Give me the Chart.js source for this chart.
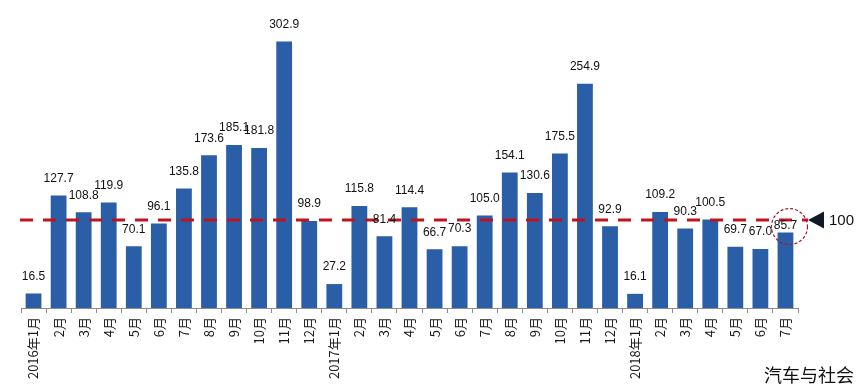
<!DOCTYPE html>
<html>
<head>
<meta charset="utf-8">
<script src="https://cdn.jsdelivr.net/npm/chart.js@4/dist/chart.umd.min.js"></script>
<style>
  html, body { margin: 0; padding: 0; background: #ffffff; }
  #wrap { position: relative; width: 866px; height: 391px; }
</style>
</head>
<body>
<div id="wrap"><canvas id="c" width="866" height="391"></canvas></div>
<script>
// ---- data ----
const categories = [
  '2016年1月','2月','3月','4月','5月','6月','7月','8月','9月','10月','11月','12月',
  '2017年1月','2月','3月','4月','5月','6月','7月','8月','9月','10月','11月','12月',
  '2018年1月','2月','3月','4月','5月','6月','7月'
];
const values2016 = [16.5,127.7,108.8,119.9,70.1,96.1,135.8,173.6,185.1,181.8,302.9,98.9];
const values2017 = [27.2,115.8,81.4,114.4,66.7,70.3,105.0,154.1,130.6,175.5,254.9,92.9];
const values2018 = [16.1,109.2,90.3,100.5,69.7,67.0,85.7];
const seriesValues = values2016.concat(values2017, values2018);
const referenceValue = 100;
const referenceLabel = '100';
const sourceText = '汽车与社会';

const overlay = {
  id: 'overlay',
  afterDatasetsDraw(chart) {
    const ctx = chart.ctx;
    const area = chart.chartArea;
    const y = chart.scales.y;
    const meta = chart.getDatasetMeta(0);
    const yRef = y.getPixelForValue(referenceValue);

    // dashed reference line
    ctx.save();
    ctx.strokeStyle = '#BE1420';
    ctx.lineWidth = 3;
    ctx.setLineDash([13, 10]);
    ctx.beginPath();
    ctx.moveTo(area.left - 1, yRef);
    ctx.lineTo(area.right + 10, yRef);
    ctx.stroke();
    ctx.restore();

    // value labels
    ctx.save();
    ctx.font = '12px "Liberation Sans", Arial, sans-serif';
    ctx.fillStyle = '#111111';
    ctx.textAlign = 'center';
    ctx.textBaseline = 'middle';
    const last = meta.data.length - 1;
    meta.data.forEach((bar, i) => {
      const off = i === last ? 7 : 17;
      ctx.fillText(seriesValues[i].toFixed(1), bar.x, bar.y - off);
    });
    ctx.restore();

    // dashed circle around the latest value
    const lb = meta.data[last];
    ctx.save();
    ctx.strokeStyle = '#A01830';
    ctx.lineWidth = 1.2;
    ctx.setLineDash([3, 2]);
    ctx.beginPath();
    ctx.ellipse(lb.x + 4, lb.y - 6, 18, 18, 0, 0, Math.PI * 2);
    ctx.stroke();
    ctx.restore();

    // triangle marker + label
    const tx = area.right + 10;
    ctx.save();
    ctx.fillStyle = '#0E1A28';
    ctx.beginPath();
    ctx.moveTo(tx, yRef);
    ctx.lineTo(tx + 16, yRef - 8.5);
    ctx.lineTo(tx + 16, yRef + 8.5);
    ctx.closePath();
    ctx.fill();
    ctx.font = '15px "Liberation Sans", Arial, sans-serif';
    ctx.fillStyle = '#111111';
    ctx.textAlign = 'left';
    ctx.textBaseline = 'middle';
    ctx.fillText(referenceLabel, tx + 21, yRef + 1);
    ctx.restore();

    // source text
    ctx.save();
    ctx.font = '18px "Noto Sans CJK SC", sans-serif';
    ctx.fillStyle = '#111111';
    ctx.textAlign = 'right';
    ctx.textBaseline = 'alphabetic';
    ctx.fillText(sourceText, 854, 382);
    ctx.restore();
  }
};

new Chart(document.getElementById('c'), {
  type: 'bar',
  data: {
    labels: categories,
    datasets: [{
      data: seriesValues,
      backgroundColor: '#2A5EA6',
      borderWidth: 0,
      barPercentage: 0.63,
      categoryPercentage: 1.0
    }]
  },
  options: {
    responsive: false,
    animation: false,
    layout: { padding: { left: 21, right: 68, top: 0, bottom: 0 } },
    plugins: { legend: { display: false }, tooltip: { enabled: false } },
    scales: {
      x: {
        grid: {
          display: true,
          drawOnChartArea: false,
          drawTicks: true,
          tickLength: 5,
          color: '#8c8c8c',
          offset: true
        },
        border: { display: true, color: '#8c8c8c', width: 1 },
        ticks: {
          autoSkip: false,
          maxRotation: 90,
          minRotation: 90,
          padding: 4,
          color: '#1a1a1a',
          font: { family: '"Noto Sans CJK SC", sans-serif', size: 13 }
        },
        afterFit(scale) { scale.height = 83; }
      },
      y: {
        display: false,
        min: 0,
        max: 350
      }
    }
  },
  plugins: [overlay]
});
</script>
</body>
</html>
